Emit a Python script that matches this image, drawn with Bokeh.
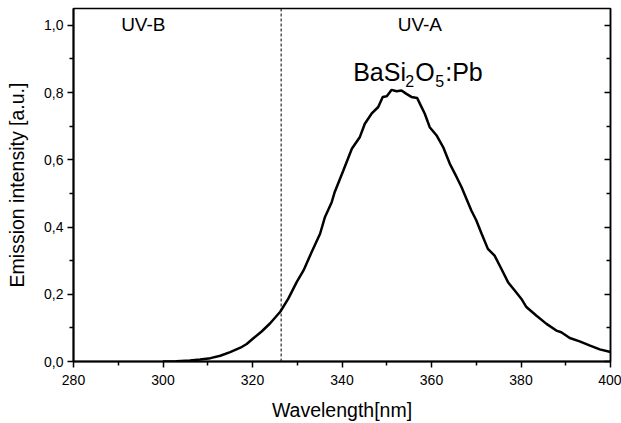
from bokeh.plotting import figure
from bokeh.models import LinearAxis, FixedTicker, CustomJSTickFormatter, Label, Span, Range1d
from bokeh.embed import file_html
from bokeh.resources import INLINE

# ---- data ----
wavelength = [300.0, 303.0, 306.0, 308.3, 310.6, 312.8, 315.0, 317.3, 318.7, 320.2,
              322.1, 323.9, 326.2, 328.0, 329.9, 331.4, 333.2, 335.1, 336.2, 337.7,
              338.4, 340.3, 342.2, 344.0, 345.1, 346.6, 348.1, 349.1, 350.0, 351.1,
              352.2, 353.3, 354.4, 355.5, 356.8, 357.4, 358.5, 359.6, 361.1, 362.6,
              364.1, 365.6, 366.7, 368.9, 370.0, 371.2, 372.6, 374.1, 375.6, 377.1,
              378.6, 380.1, 381.2, 383.4, 385.7, 387.9, 389.0, 390.9, 393.1, 395.3,
              397.6, 400.0]
intensity = [0.000, 0.001, 0.003, 0.006, 0.010, 0.017, 0.028, 0.041, 0.052, 0.069,
             0.090, 0.113, 0.148, 0.187, 0.237, 0.271, 0.325, 0.380, 0.430, 0.474,
             0.505, 0.568, 0.633, 0.668, 0.707, 0.737, 0.757, 0.787, 0.789, 0.808,
             0.804, 0.806, 0.796, 0.787, 0.784, 0.767, 0.737, 0.697, 0.673, 0.638,
             0.588, 0.549, 0.519, 0.449, 0.420, 0.380, 0.335, 0.315, 0.276, 0.236,
             0.211, 0.186, 0.162, 0.137, 0.112, 0.092, 0.087, 0.070, 0.060, 0.048,
             0.036, 0.028]
x_ticks = [280, 300, 320, 340, 360, 380, 400]
x_minor = [290, 310, 330, 350, 370, 390]
y_ticks = [0.0, 0.2, 0.4, 0.6, 0.8, 1.0]
y_minor = [0.1, 0.3, 0.5, 0.7, 0.9]
boundary_nm = 326.4
x_label = "Wavelength[nm]"
y_label = "Emission intensity [a.u.]"
region_labels = ["UV-B", "UV-A"]
region_label_x = [295.6, 357.4]
region_label_y = 1.003
sample_x = 342.5
sample_y = 0.861

FONT = "Liberation Sans"

p = figure(width=621, height=423,
           x_range=Range1d(280, 400), y_range=Range1d(0, 1.05),
           output_backend="svg", toolbar_location=None,
           min_border_left=73, min_border_right=11, min_border_top=8, min_border_bottom=62)
p.grid.visible = False
p.outline_line_color = "black"
p.outline_line_width = 1.5
p.background_fill_color = "white"
p.border_fill_color = "white"

xa = p.xaxis[0]
xa.ticker = FixedTicker(ticks=x_ticks, minor_ticks=x_minor)
xa.axis_label = x_label
ya = p.yaxis[0]
ya.ticker = FixedTicker(ticks=y_ticks, minor_ticks=y_minor)
ya.formatter = CustomJSTickFormatter(code="return tick.toFixed(1).replace('.', ',');")
ya.axis_label = y_label

for ax in (xa, ya):
    ax.axis_line_width = 2
    ax.axis_line_color = "black"
    ax.major_tick_line_color = "black"
    ax.minor_tick_line_color = "black"
    ax.major_tick_line_width = 1.5
    ax.minor_tick_line_width = 1.5
    ax.major_tick_out = 6
    ax.major_tick_in = 0
    ax.minor_tick_out = 4
    ax.minor_tick_in = 0
    ax.major_label_text_font = FONT
    ax.major_label_text_font_size = "14px"
    ax.major_label_text_color = "black"
    ax.axis_label_text_font = FONT
    ax.axis_label_text_font_size = "19.5px"
    ax.axis_label_text_font_style = "normal"
    ax.axis_label_text_color = "black"

xa.major_label_standoff = 7
xa.axis_label_standoff = 11
ya.major_label_standoff = 4
ya.axis_label_standoff = 13

right = LinearAxis(ticker=FixedTicker(ticks=y_ticks, minor_ticks=y_minor),
                   formatter=CustomJSTickFormatter(code="return '';"),
                   major_label_standoff=0,
                   major_tick_in=6, major_tick_out=0, minor_tick_in=4, minor_tick_out=0,
                   axis_line_width=1.5, major_tick_line_width=1.5, minor_tick_line_width=1.5)
p.add_layout(right, "right")

p.line(wavelength, intensity, line_width=2.5, line_color="black")
p.add_layout(Span(location=boundary_nm, dimension="height", line_dash="3 2",
                  line_color="black", line_width=1))

for txt, lx in zip(region_labels, region_label_x):
    p.add_layout(Label(x=lx, y=region_label_y, text=txt, text_align="center",
                       text_baseline="middle", text_font=FONT, text_font_size="19px",
                       text_color="black"))

# BaSi2O5:Pb with subscripts
pieces = [("BaSi", 0, 0, "25px"), ("2", 52, -9, "16px"), ("O", 62, 0, "25px"),
          ("5", 82, -9, "16px"), (":Pb", 92, 0, "25px")]
for txt, dx, dy, fs in pieces:
    p.add_layout(Label(x=sample_x, y=sample_y, x_offset=dx, y_offset=dy, text=txt,
                       text_align="left", text_baseline="alphabetic", text_font=FONT,
                       text_font_size=fs, text_color="black"))

open("out.html", "w").write(file_html(p, INLINE))
